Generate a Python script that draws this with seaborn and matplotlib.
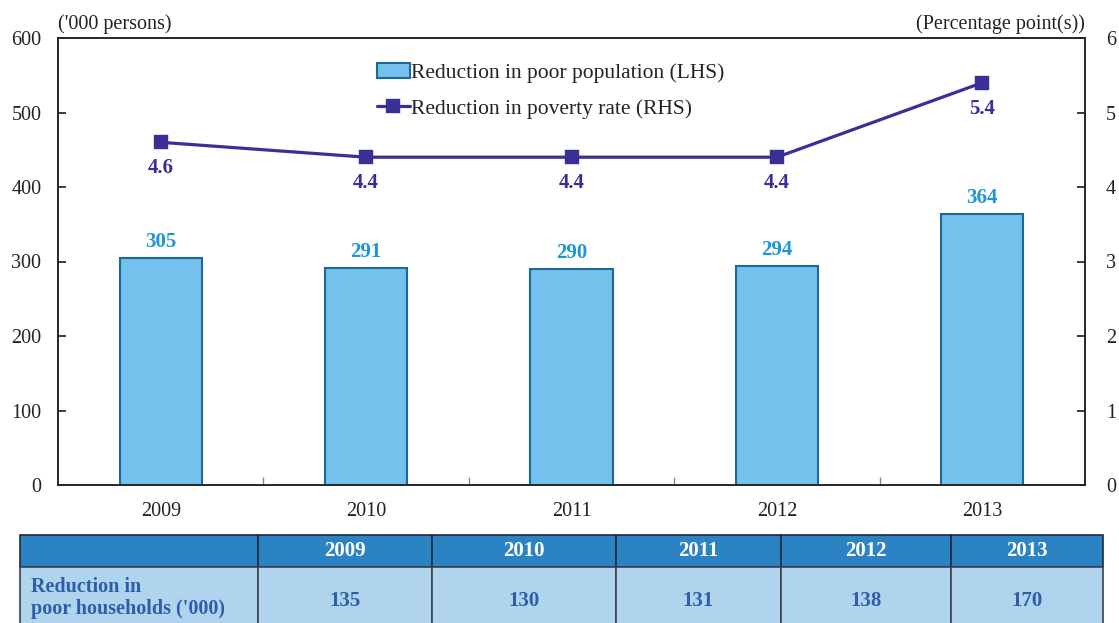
import matplotlib
matplotlib.use("Agg")
import matplotlib.pyplot as plt
from matplotlib.patches import Rectangle
import seaborn as sns
import pandas as pd

years = ["2009", "2010", "2011", "2012", "2013"]
poor_population = [305, 291, 290, 294, 364]
poverty_rate = [4.6, 4.4, 4.4, 4.4, 5.4]
poor_households = [135, 130, 131, 138, 170]

sns.set_theme(style="white")
plt.rcParams["font.family"] = ["Liberation Serif", "DejaVu Serif"]

BAR_FILL = "#73C2EE"
BAR_EDGE = "#1F6699"
BAR_LABEL = "#1E96D4"
LINE_COL = "#3A2F96"
HEAD_FILL = "#2B83C4"
ROW_FILL = "#B0D4EE"
ROW_TEXT = "#2F5DA8"
TXT = "#222222"

W, H = 1119, 623
fig = plt.figure(figsize=(W / 100, H / 100), dpi=100)

x0, x1, y0, y1 = 58, 1085, 38, 485
ax = fig.add_axes([x0 / W, 1 - y1 / H, (x1 - x0) / W, (y1 - y0) / H])

df = pd.DataFrame({"year": years, "pop": poor_population, "rate": poverty_rate})
sns.barplot(data=df, x="year", y="pop", ax=ax, color=BAR_FILL, width=0.4,
            edgecolor=BAR_EDGE, linewidth=1.5, saturation=1,
            label="Reduction in poor population (LHS)")
ax.set_ylim(0, 600)
ax.set_yticks(range(0, 601, 100))
ax.set_xlim(-0.5, 4.5)
ax.set_xlabel("")
ax.set_ylabel("")
for s in ax.spines.values():
    s.set_color("#333333")
    s.set_linewidth(1.2)

for i, v in enumerate(poor_population):
    ax.text(i, v + 16 * 600 / 447, f"{v}", ha="center", va="center", color=BAR_LABEL,
            fontsize=15, fontweight="bold")

ax2 = ax.twinx()
sns.pointplot(data=df, x="year", y="rate", ax=ax2, color=LINE_COL, markers="s",
              linestyles="-", markersize=8.5, linewidth=2.3,
              label="Reduction in poverty rate (RHS)")
ax2.set_ylim(0, 6)
ax2.set_yticks(range(0, 7))
ax2.set_ylabel("")
for i, v in enumerate(poverty_rate):
    ax2.text(i, v - 0.35, f"{v:.1f}", ha="center", va="center",
             color=LINE_COL, fontsize=15, fontweight="bold")

ax.tick_params(axis="y", direction="in", length=6, labelsize=14.5, colors=TXT,
               left=True, pad=12)
ax2.tick_params(axis="y", direction="in", length=6, labelsize=14.5, colors=TXT,
                right=True, pad=15)
ax.tick_params(axis="x", length=0, labelsize=14.5, colors=TXT, pad=12)
ax.set_xticks([0.5, 1.5, 2.5, 3.5], minor=True)
ax.tick_params(axis="x", which="minor", direction="in", length=6, color="#888888",
               bottom=True)

ax.text(0.0, 1.008, "('000 persons)", transform=ax.transAxes, ha="left", va="bottom",
        fontsize=14.5, color=TXT)
ax2.text(1.0, 1.008, "(Percentage point(s))", transform=ax2.transAxes, ha="right",
         va="bottom", fontsize=14.5, color=TXT)

h1, l1 = ax.get_legend_handles_labels()
h2, l2 = ax2.get_legend_handles_labels()
if ax.get_legend():
    ax.get_legend().remove()
if ax2.get_legend():
    ax2.get_legend().remove()
ax2.legend(h1 + h2, l1 + l2, loc="upper left", bbox_to_anchor=(0.292, 0.988),
           frameon=False, fontsize=15.5, handlelength=1.5, handletextpad=0.08,
           labelspacing=0.75, labelcolor=TXT)

# Summary table below the chart
tab = fig.add_axes([0, 0, 1, 1])
tab.set_xlim(0, W)
tab.set_ylim(H, 0)
tab.axis("off")
cols = [20, 258, 432, 616, 781, 951, 1103]
hy0, hy1, ry1 = 535, 567, 625
for j in range(len(cols) - 1):
    tab.add_patch(Rectangle((cols[j], hy0), cols[j + 1] - cols[j], hy1 - hy0,
                            facecolor=HEAD_FILL, edgecolor="#1E2A3A", linewidth=1.2))
    tab.add_patch(Rectangle((cols[j], hy1), cols[j + 1] - cols[j], ry1 - hy1,
                            facecolor=ROW_FILL, edgecolor="#3A4350", linewidth=1.2))
for j, yr in enumerate(years):
    cx = (cols[j + 1] + cols[j + 2]) / 2
    tab.text(cx, (hy0 + hy1) / 2, yr, ha="center", va="center", color="white",
             fontsize=15, fontweight="bold")
    tab.text(cx, 601, f"{poor_households[j]}", ha="center", va="center", color=ROW_TEXT,
             fontsize=15, fontweight="bold")
tab.text(31, 598, "Reduction in\npoor households ('000)", ha="left", va="center",
         color=ROW_TEXT, fontsize=14.5, fontweight="bold", linespacing=1.1)

fig.savefig("out.png", dpi=100)
